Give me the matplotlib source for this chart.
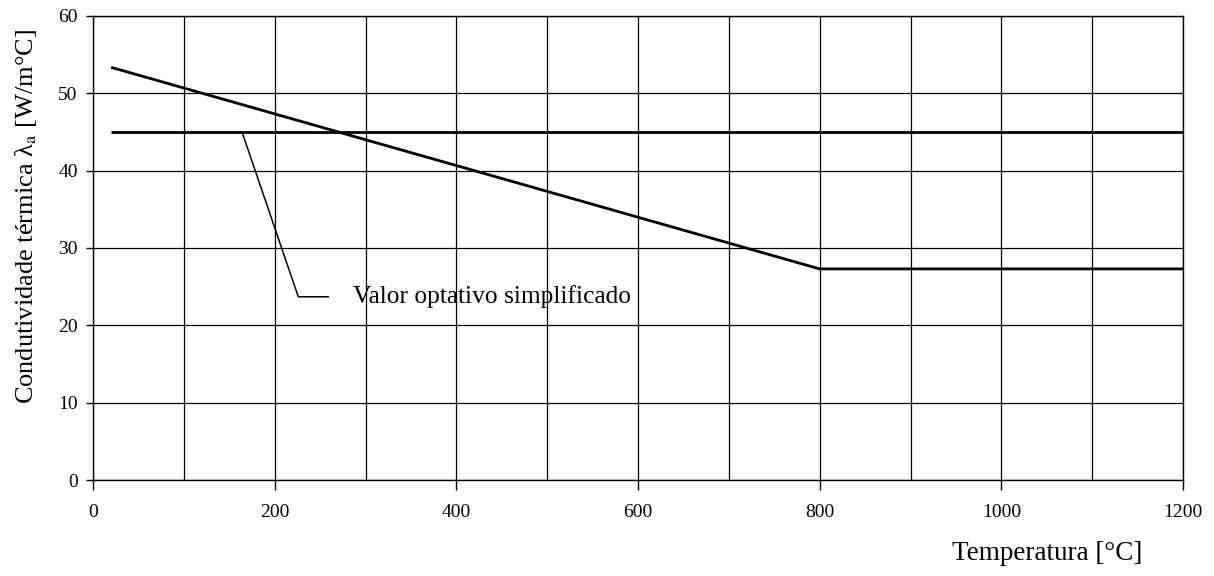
import matplotlib
matplotlib.use("Agg")
import matplotlib.pyplot as plt

plt.rcParams['font.family'] = ['Liberation Serif', 'DejaVu Serif']
plt.rcParams['mathtext.fontset'] = 'stix'

# Data
temp_curve = [20, 800, 1200]
lambda_curve = [53.33, 27.3, 27.3]
temp_const = [20, 1200]
lambda_const = [45, 45]
x_ticks = [0, 200, 400, 600, 800, 1000, 1200]
y_ticks = [0, 10, 20, 30, 40, 50, 60]
annot_text = "Valor optativo simplificado"
annot_path_x = [164, 226, 259]
annot_path_y = [45, 23.7, 23.7]

fig = plt.figure(figsize=(12.14, 5.76), dpi=100)
ax = fig.add_axes([93/1214, 1 - 480.3/576, 1090/1214, 464.6/576])

ax.plot(temp_curve, lambda_curve, color='black', lw=2.0, solid_capstyle='butt')
ax.plot(temp_const, lambda_const, color='black', lw=2.0, solid_capstyle='butt')
ax.plot(annot_path_x, annot_path_y, color='black', lw=1.1)
ax.text(286, 23.7, annot_text, fontsize=18.3, va='center', ha='left')

ax.set_xlim(0, 1200)
ax.set_ylim(0, 60)
ax.set_xticks(x_ticks)
ax.set_yticks(y_ticks)
ax.set_xticks(range(0, 1201, 100), minor=True)
ax.grid(True, which='both', color='black', lw=0.9)
ax.tick_params(axis='x', which='major', direction='out', length=7, width=1, labelsize=14, pad=10)
ax.tick_params(axis='x', which='minor', length=0)
ax.tick_params(axis='y', direction='out', length=5, width=1, labelsize=14, pad=6)
for s in ax.spines.values():
    s.set_linewidth(1.0)
ax.set_axisbelow(True)

fig.text(26/1214, 1 - 216/576, r"Condutividade térmica λ$_\mathrm{a}$ [W/m°C]",
         fontsize=19, rotation=90, ha='center', va='center')
fig.text(1142/1214, 1 - 553/576, "Temperatura [°C]", fontsize=19.5, ha='right', va='center')

fig.savefig("out.png", dpi=100)
